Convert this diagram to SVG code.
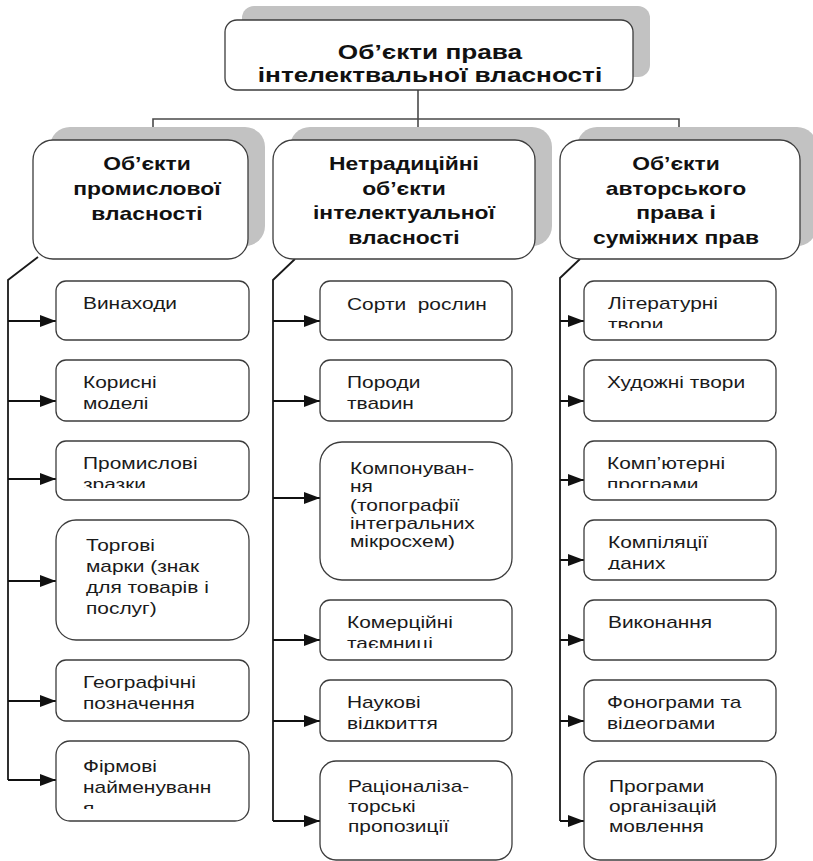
<svg xmlns="http://www.w3.org/2000/svg" width="813" height="861" viewBox="0 0 813 861">
<style>
.sh{fill:#c2c2c2}
.bx{fill:#fff;stroke:#3c3c3c;stroke-width:1.3}
.h{font-family:"Liberation Sans",Arial,sans-serif;font-weight:bold;fill:#111;text-anchor:middle}
.h1{font-size:20px}
.h2{font-size:18px}
.t{font-family:"Liberation Sans",Arial,sans-serif;font-size:17px;fill:#1a1a1a}
.c{fill:none;stroke:#1a1a1a;stroke-width:1.8}
.ct{fill:none;stroke:#4a4a4a;stroke-width:1.6}
.a{fill:none;stroke:#111;stroke-width:2;marker-end:url(#arr)}
</style>
<defs>
<marker id="arr" markerUnits="userSpaceOnUse" markerWidth="16" markerHeight="12" refX="16" refY="6" orient="auto">
<path d="M0,0 L16,6 L0,12 z" fill="#111"/>
</marker>
<clipPath id="cpL2"><rect x="56" y="360" width="193" height="49"/></clipPath>
<clipPath id="cpL3"><rect x="56" y="441" width="193" height="47"/></clipPath>
<clipPath id="cpL6"><rect x="56" y="741" width="193" height="68"/></clipPath>
<clipPath id="cpM2"><rect x="320" y="360" width="192" height="49"/></clipPath>
<clipPath id="cpM4"><rect x="320" y="600" width="192" height="48"/></clipPath>
<clipPath id="cpM5"><rect x="320" y="680" width="192" height="49"/></clipPath>
<clipPath id="cpR1"><rect x="584" y="281" width="192" height="47"/></clipPath>
<clipPath id="cpR3"><rect x="584" y="441" width="192" height="47"/></clipPath>
<clipPath id="cpR4"><rect x="584" y="520" width="192" height="50"/></clipPath>
<clipPath id="cpR6"><rect x="584" y="680" width="192" height="49"/></clipPath>
</defs>

<g id="connectors">
<path class="ct" d="M418,90 V140 M153,140 V119 H679 V140"/>
<path class="c" d="M38,257 L8,280 V780"/>
<path class="c" d="M295,259 L273,280 V821"/>
<path class="c" d="M580,259 L560,278 V821"/>
<path class="a" d="M8,321 H56"/>
<path class="a" d="M8,401 H56"/>
<path class="a" d="M8,479 H56"/>
<path class="a" d="M8,581 H56"/>
<path class="a" d="M8,701 H56"/>
<path class="a" d="M8,780 H56"/>
<path class="a" d="M273,321 H320"/>
<path class="a" d="M273,401 H320"/>
<path class="a" d="M273,498 H320"/>
<path class="a" d="M273,640 H320"/>
<path class="a" d="M273,721 H320"/>
<path class="a" d="M273,821 H320"/>
<path class="a" d="M560,321 H584"/>
<path class="a" d="M560,401 H584"/>
<path class="a" d="M560,480 H584"/>
<path class="a" d="M560,560 H584"/>
<path class="a" d="M560,640 H584"/>
<path class="a" d="M560,721 H584"/>
<path class="a" d="M560,821 H584"/>
</g>

<g id="root">
<rect class="sh" x="242" y="6" width="408" height="71" rx="12"/>
<rect class="bx" x="225" y="20" width="408" height="70" rx="12"/>
<text class="h h1" transform="translate(430,0) scale(1.31,1)"><tspan x="0" y="59">Об’єкти права</tspan><tspan x="0" y="82">інтелектвальної власності</tspan></text>
</g>

<g id="industrial">
<rect class="sh" x="50" y="127" width="215" height="119" rx="20"/>
<rect class="bx" x="33" y="140" width="215" height="119" rx="20"/>
<text class="h h2" transform="translate(147,0) scale(1.27,1)"><tspan x="0" y="170">Об’єкти</tspan><tspan x="0" y="195">промислової</tspan><tspan x="0" y="220">власності</tspan></text>
</g>

<g id="nontraditional">
<rect class="sh" x="290" y="127" width="262" height="119" rx="20"/>
<rect class="bx" x="273" y="140" width="262" height="119" rx="20"/>
<text class="h h2" transform="translate(404,0) scale(1.27,1)"><tspan x="0" y="170">Нетрадиційні</tspan><tspan x="0" y="195">об’єкти</tspan><tspan x="0" y="219">інтелектуальної</tspan><tspan x="0" y="244">власності</tspan></text>
</g>

<g id="copyright">
<rect class="sh" x="577" y="127" width="240" height="119" rx="20"/>
<rect class="bx" x="560" y="140" width="240" height="119" rx="20"/>
<text class="h h2" transform="translate(676,0) scale(1.27,1)"><tspan x="0" y="170">Об’єкти</tspan><tspan x="0" y="195">авторського</tspan><tspan x="0" y="219">права і</tspan><tspan x="0" y="244">суміжних прав</tspan></text>
</g>

<g id="l1"><rect class="bx" x="56" y="281" width="193" height="59" rx="10"/>
<text class="t" transform="translate(83,309) scale(1.23,1)">Винаходи</text></g>
<g id="l2"><rect class="bx" x="56" y="360" width="193" height="61" rx="10"/>
<g clip-path="url(#cpL2)"><text class="t" transform="translate(83,388) scale(1.23,1)"><tspan x="0" y="0">Корисні</tspan><tspan x="0" y="21">моделі</tspan></text></g></g>
<g id="l3"><rect class="bx" x="56" y="441" width="193" height="59" rx="10"/>
<g clip-path="url(#cpL3)"><text class="t" transform="translate(83,469) scale(1.23,1)"><tspan x="0" y="0">Промислові</tspan><tspan x="0" y="21">зразки</tspan></text></g></g>
<g id="l4"><rect class="bx" x="56" y="520" width="193" height="120" rx="20"/>
<text class="t" transform="translate(86,551) scale(1.23,1)"><tspan x="0" y="0">Торгові</tspan><tspan x="0" y="21">марки (знак</tspan><tspan x="0" y="42">для товарів і</tspan><tspan x="0" y="63">послуг)</tspan></text></g>
<g id="l5"><rect class="bx" x="56" y="660" width="193" height="61" rx="10"/>
<text class="t" transform="translate(83,688) scale(1.23,1)"><tspan x="0" y="0">Географічні</tspan><tspan x="0" y="21">позначення</tspan></text></g>
<g id="l6"><rect class="bx" x="56" y="741" width="193" height="80" rx="14"/>
<g clip-path="url(#cpL6)"><text class="t" transform="translate(83,772) scale(1.23,1)"><tspan x="0" y="0">Фірмові</tspan><tspan x="0" y="21">найменуванн</tspan><tspan x="0" y="42">я</tspan></text></g></g>

<g id="m1"><rect class="bx" x="320" y="281" width="192" height="59" rx="10"/>
<text class="t" xml:space="preserve" transform="translate(347,310) scale(1.23,1)">Сорти  рослин</text></g>
<g id="m2"><rect class="bx" x="320" y="360" width="192" height="61" rx="10"/>
<g clip-path="url(#cpM2)"><text class="t" transform="translate(347,388) scale(1.23,1)"><tspan x="0" y="0">Породи</tspan><tspan x="0" y="21">тварин</tspan></text></g></g>
<g id="m3"><rect class="bx" x="320" y="442" width="192" height="138" rx="22"/>
<text class="t" transform="translate(350,474) scale(1.23,1)"><tspan x="0" y="0">Компонуван-</tspan><tspan x="0" y="18.3">ня</tspan><tspan x="0" y="36.6">(топографії</tspan><tspan x="0" y="54.9">інтегральних</tspan><tspan x="0" y="73.2">мікросхем)</tspan></text></g>
<g id="m4"><rect class="bx" x="320" y="600" width="192" height="60" rx="10"/>
<g clip-path="url(#cpM4)"><text class="t" transform="translate(347,628) scale(1.23,1)"><tspan x="0" y="0">Комерційні</tspan><tspan x="0" y="21">таємниці</tspan></text></g></g>
<g id="m5"><rect class="bx" x="320" y="680" width="192" height="61" rx="10"/>
<g clip-path="url(#cpM5)"><text class="t" transform="translate(347,708) scale(1.23,1)"><tspan x="0" y="0">Наукові</tspan><tspan x="0" y="21">відкриття</tspan></text></g></g>
<g id="m6"><rect class="bx" x="320" y="761" width="192" height="99" rx="16"/>
<text class="t" transform="translate(348,792) scale(1.23,1)"><tspan x="0" y="0">Раціоналіза-</tspan><tspan x="0" y="20">торські</tspan><tspan x="0" y="40">пропозиції</tspan></text></g>

<g id="r1"><rect class="bx" x="584" y="281" width="192" height="59" rx="10"/>
<g clip-path="url(#cpR1)"><text class="t" transform="translate(608,309) scale(1.23,1)"><tspan x="0" y="0">Літературні</tspan><tspan x="0" y="21">твори</tspan></text></g></g>
<g id="r2"><rect class="bx" x="584" y="360" width="192" height="61" rx="10"/>
<text class="t" transform="translate(607,388) scale(1.23,1)">Художні твори</text></g>
<g id="r3"><rect class="bx" x="584" y="441" width="192" height="59" rx="10"/>
<g clip-path="url(#cpR3)"><text class="t" transform="translate(607,469) scale(1.23,1)"><tspan x="0" y="0">Комп’ютерні</tspan><tspan x="0" y="21">програми</tspan></text></g></g>
<g id="r4"><rect class="bx" x="584" y="520" width="192" height="60" rx="10"/>
<g clip-path="url(#cpR4)"><text class="t" transform="translate(608,548) scale(1.23,1)"><tspan x="0" y="0">Компіляції</tspan><tspan x="0" y="21">даних</tspan></text></g></g>
<g id="r5"><rect class="bx" x="584" y="600" width="192" height="60" rx="10"/>
<text class="t" transform="translate(608,628) scale(1.23,1)">Виконання</text></g>
<g id="r6"><rect class="bx" x="584" y="680" width="192" height="61" rx="10"/>
<g clip-path="url(#cpR6)"><text class="t" transform="translate(607,708) scale(1.23,1)"><tspan x="0" y="0">Фонограми та</tspan><tspan x="0" y="21">відеограми</tspan></text></g></g>
<g id="r7"><rect class="bx" x="584" y="761" width="192" height="99" rx="16"/>
<text class="t" transform="translate(609,792) scale(1.23,1)"><tspan x="0" y="0">Програми</tspan><tspan x="0" y="20">організацій</tspan><tspan x="0" y="40">мовлення</tspan></text></g>
</svg>
